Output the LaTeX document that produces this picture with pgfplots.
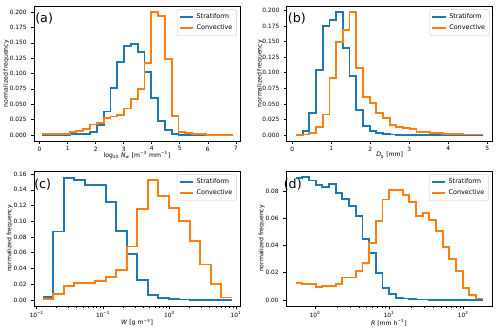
\documentclass[border=0pt]{standalone}
\usepackage{fontspec}
\setmainfont{DejaVu Sans}
\usepackage{pgfplots}
\pgfplotsset{compat=1.18}

\definecolor{tabblue}{HTML}{1F77B4}
\definecolor{taborange}{HTML}{FF7F0E}

\pgfplotsset{
  panel/.style={
    scale only axis, width=154.5pt,
    anchor=north west,
    clip mode=individual,
    scaled y ticks=false,
    axis line style={black, line width=0.45pt},
    tick align=outside, tick pos=left,
    major tick length=2pt, minor tick length=1.2pt,
    every tick/.style={black, line width=0.4pt},
    tick label style={font=\fontsize{4.4}{5}\selectfont},
    xticklabel style={yshift=1.5pt},
    label style={font=\fontsize{4.6}{5.5}\selectfont},
    /pgf/number format/assume math mode=true,
    legend cell align=left,
    legend style={font=\fontsize{4.8}{5.8}\selectfont, draw=black!18,
      rounded corners=1.5pt, at={(0.985,0.975)}, anchor=north east,
      inner sep=1.2pt, row sep=-1pt, fill=white, fill opacity=0.8, text opacity=1},
    legend image code/.code={\draw[#1] (0pt,0pt) -- (10pt,0pt);},
  },
  xlabpos/.style={xlabel style={at={(axis description cs:0.5,0)}, anchor=center, yshift=#1}},
  yprec/.style={yticklabel style={/pgf/number format/fixed,
    /pgf/number format/fixed zerofill, /pgf/number format/precision=#1}},
  strat/.style={tabblue, line width=1.4pt, const plot mark left},
  conv/.style={taborange, line width=1.4pt, const plot mark left},
}

\newcommand{\plabel}[2]{\node[anchor=north west, inner sep=0pt, font=\fontsize{9.5}{11}\selectfont] at (rel axis cs:#1) {#2};}
\newcommand{\ylab}[1]{\node[rotate=90, inner sep=0pt, font=\fontsize{4.6}{5.5}\selectfont] at (axis description cs:#1,0.5) {normalized frequency};}

\begin{document}
\begin{tikzpicture}
\useasboundingbox (0,0) rectangle (375pt,249pt);

% (a)
\begin{axis}[panel, at={(25.5pt,244.5pt)}, height=101.5pt, xlabpos=-10.5pt,
  xmin=-0.2, xmax=7.15, ymin=-0.0105, ymax=0.21,
  xtick={0,1,...,7},
  ytick={0,0.025,...,0.2}, yprec=3,
  xlabel={log\textsubscript{10} \textit{N}\textsubscript{\textit{w}} [m\textsuperscript{−3} mm\textsuperscript{−1}]}]
\addplot[strat] coordinates {
(0.100,0) (0.343,0) (0.586,0) (0.829,0.0005) (1.071,0.001) (1.314,0.001) (1.557,0.002)
(1.800,0.005) (2.043,0.016) (2.286,0.038) (2.529,0.076) (2.771,0.119) (3.014,0.145)
(3.257,0.148) (3.500,0.135) (3.743,0.103) (3.986,0.060) (4.229,0.022) (4.471,0.008)
(4.714,0.002) (4.957,0.0005) (5.200,0) (5.443,0) (5.686,0) (5.929,0) (6.171,0)
(6.414,0) (6.657,0) (6.900,0)};
\addlegendentry{Stratiform}
\addplot[conv] coordinates {
(0.100,0.001) (0.343,0.001) (0.586,0.001) (0.829,0.002) (1.071,0.004) (1.314,0.007)
(1.557,0.010) (1.800,0.017) (2.043,0.019) (2.286,0.027) (2.529,0.030) (2.771,0.032)
(3.014,0.043) (3.257,0.058) (3.500,0.075) (3.743,0.117) (3.986,0.200) (4.229,0.193)
(4.471,0.123) (4.714,0.031) (4.957,0.005) (5.200,0.003) (5.443,0.002) (5.686,0.001)
(5.929,0.0005) (6.171,0.0005) (6.414,0.0005) (6.657,0.0005) (6.900,0.0005)};
\addlegendentry{Convective}
\plabel{0.005,0.95}{(a)}
\ylab{-0.135}
\end{axis}

% (b)
\begin{axis}[panel, at={(215pt,244.5pt)}, height=101.5pt, xlabpos=-10.5pt,
  xmin=-0.14, xmax=5.14, ymin=-0.0099, ymax=0.207,
  xtick={0,1,...,5},
  ytick={0,0.025,...,0.2}, yprec=3,
  xlabel={\textit{D}\textsubscript{0} [mm]}]
\addplot[strat] coordinates {
(0.100,0) (0.271,0.006) (0.443,0.036) (0.614,0.104) (0.786,0.175) (0.957,0.184)
(1.129,0.197) (1.300,0.140) (1.471,0.095) (1.643,0.040) (1.814,0.014) (1.986,0.007)
(2.157,0.003) (2.329,0.002) (2.500,0.001) (2.671,0.0005) (2.843,0.0005) (3.014,0.0003)
(3.186,0.0003) (3.357,0.0002) (3.529,0.0002) (3.700,0.0001) (3.871,0.0001) (4.043,0)
(4.214,0) (4.386,0) (4.557,0) (4.729,0) (4.900,0)};
\addlegendentry{Stratiform}
\addplot[conv] coordinates {
(0.100,0) (0.271,0.001) (0.443,0.004) (0.614,0.013) (0.786,0.033) (0.957,0.091)
(1.129,0.149) (1.300,0.169) (1.471,0.197) (1.643,0.108) (1.814,0.061) (1.986,0.052)
(2.157,0.036) (2.329,0.028) (2.500,0.016) (2.671,0.0128) (2.843,0.011) (3.014,0.0096)
(3.186,0.0055) (3.357,0.0053) (3.529,0.0035) (3.700,0.003) (3.871,0.0025) (4.043,0.002)
(4.214,0.0015) (4.386,0.001) (4.557,0.001) (4.729,0.001) (4.900,0.001)};
\addlegendentry{Convective}
\plabel{0.005,0.95}{(b)}
\ylab{-0.13}
\end{axis}

% (c)
\begin{axis}[panel, at={(25.5pt,120.75pt)}, height=101.25pt, xlabpos=-12.5pt,
  xmode=log, xmin=0.00912, xmax=11.5, ymin=-0.0078, ymax=0.164,
  xtick={0.01,0.1,1,10},
  xticklabels={10\textsuperscript{−2},10\textsuperscript{−1},10\textsuperscript{0},10\textsuperscript{1}},
  ytick={0,0.02,...,0.16}, yprec=2,
  xlabel={\textit{W} [g m\textsuperscript{−3}]}]
\addplot[strat] coordinates {
(0.01242,0.004) (0.01786,0.087) (0.02570,0.155) (0.03690,0.152) (0.05309,0.146)
(0.07638,0.146) (0.1099,0.125) (0.1581,0.088) (0.2270,0.058) (0.3266,0.025)
(0.4699,0.006) (0.6761,0.002) (0.9727,0.001) (1.397,0.0005) (2.010,0.0003)
(2.892,0.0002) (4.159,0.0001) (5.984,0.0001) (8.590,0.0001)};
\addlegendentry{Stratiform}
\addplot[conv] coordinates {
(0.01242,0.001) (0.01786,0.008) (0.02570,0.018) (0.03690,0.022) (0.05309,0.021)
(0.07638,0.024) (0.1099,0.029) (0.1581,0.038) (0.2270,0.068) (0.3266,0.116)
(0.4699,0.152) (0.6761,0.132) (0.9727,0.117) (1.397,0.100) (2.010,0.075)
(2.892,0.045) (4.159,0.020) (5.984,0.003) (8.590,0.003)};
\addlegendentry{Convective}
\plabel{0.0,0.94}{(c)}
\ylab{-0.118}
\end{axis}

% (d)
\begin{axis}[panel, at={(214.5pt,120.75pt)}, height=101.25pt, xlabpos=-12.5pt,
  xmode=log, xmin=0.407, xmax=245, ymin=-0.0045, ymax=0.095,
  xtick={1,10,100},
  xticklabels={10\textsuperscript{0},10\textsuperscript{1},10\textsuperscript{2}},
  ytick={0,0.02,...,0.08}, yprec=2,
  xlabel={\textit{R} [mm h\textsuperscript{−1}]}]
\addplot[strat] coordinates {
(0.549,0.090) (0.6758,0.0905) (0.8316,0.088) (1.0235,0.0845) (1.2595,0.083)
(1.550,0.0855) (1.908,0.079) (2.349,0.0745) (2.891,0.069) (3.558,0.062)
(4.380,0.045) (5.391,0.0345) (6.635,0.020) (8.167,0.0088) (10.05,0.0045)
(12.37,0.0016) (15.23,0.001) (18.75,0.0006) (23.08,0.0003) (28.40,0.0003)
(34.96,0.0002) (43.03,0.0002) (52.97,0.0001) (65.19,0.0001) (80.24,0.0001)
(98.74,0.0001) (121.5,0.0001) (149.6,0.0001) (184.1,0.0001)};
\addlegendentry{Stratiform}
\addplot[conv] coordinates {
(0.549,0.0125) (0.6758,0.0115) (0.8316,0.0115) (1.0235,0.0095) (1.2595,0.0100)
(1.550,0.0105) (1.908,0.0115) (2.349,0.0165) (2.891,0.0165) (3.558,0.021)
(4.380,0.027) (5.391,0.042) (6.635,0.058) (8.167,0.074) (10.05,0.081)
(12.37,0.081) (15.23,0.077) (18.75,0.072) (23.08,0.062) (28.40,0.064)
(34.96,0.059) (43.03,0.051) (52.97,0.039) (65.19,0.030) (80.24,0.021)
(98.74,0.009) (121.5,0.0035) (149.6,0.001) (184.1,0.001)};
\addlegendentry{Convective}
\plabel{-0.012,0.94}{(d)}
\ylab{-0.118}
\end{axis}
\end{tikzpicture}
\end{document}
